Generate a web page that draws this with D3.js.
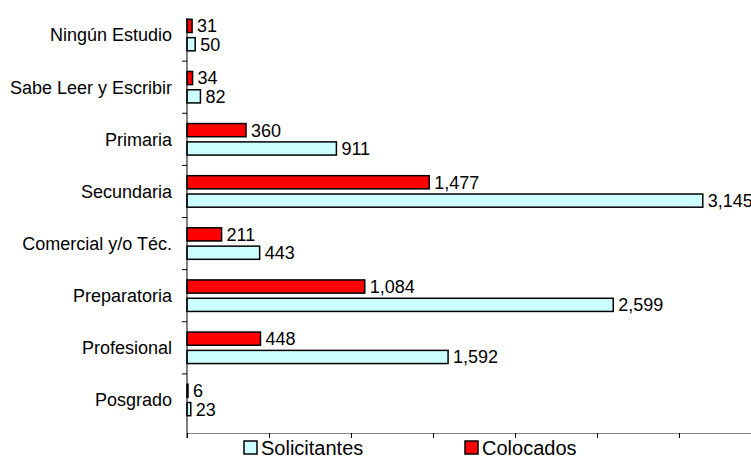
<!DOCTYPE html>
<html>
<head>
<meta charset="utf-8">
<script src="https://cdn.jsdelivr.net/npm/d3@7"></script>
<style>
  html, body { margin: 0; padding: 0; background: #fff; }
  svg { display: block; font-family: "Liberation Sans", Arial, sans-serif; }
</style>
</head>
<body>
<svg id="chart" width="751" height="459"></svg>
<script>
const categories = ["Ningún Estudio", "Sabe Leer y Escribir", "Primaria", "Secundaria",
                    "Comercial y/o Téc.", "Preparatoria", "Profesional", "Posgrado"];
const colocados = [31, 34, 360, 1477, 211, 1084, 448, 6];
const solicitantes = [50, 82, 911, 3145, 443, 2599, 1592, 23];
const xTickValues = [0, 500, 1000, 1500, 2000, 2500, 3000, 3500];
const seriesNames = ["Solicitantes", "Colocados"];
const seriesColors = { "Solicitantes": "#CCFFFF", "Colocados": "#FF0000" };

const svg = d3.select("#chart");
const axisLeftX = 187, axisBottomY = 433, axisTopY = 18;

const x = d3.scaleLinear().domain([0, 3500]).range([axisLeftX, 761]);
const y = d3.scaleBand().domain(categories).range([9, 426]);
// sub-band: Colocados on top, Solicitantes below
const ySub = d3.scaleBand().domain(["Colocados", "Solicitantes"]).range([-16.5, 16.5]).paddingInner(0.2);

const rows = categories.map((c, i) => ({ cat: c, Colocados: colocados[i], Solicitantes: solicitantes[i] }));

// bars
const g = svg.append("g");
rows.forEach(r => {
  const cy = y(r.cat) + y.bandwidth() / 2;
  ["Colocados", "Solicitantes"].forEach(s => {
    const top = cy + ySub(s);
    g.append("rect")
      .attr("x", x(0))
      .attr("y", top + 0.75)
      .attr("width", Math.max(0, x(r[s]) - x(0)))
      .attr("height", ySub.bandwidth() - 1.5)
      .attr("fill", seriesColors[s])
      .attr("stroke", "#000")
      .attr("stroke-width", 1.5);
    g.append("text")
      .attr("x", x(r[s]) + 5)
      .attr("y", top + ySub.bandwidth() / 2 + 6.4)
      .attr("font-size", 18)
      .attr("fill", "#000")
      .text(d3.format(",")(r[s]));
  });
});

// x axis
const xAxis = d3.axisBottom(x).tickValues(xTickValues).tickFormat("").tickSize(5).tickSizeOuter(0);
const xg = svg.append("g").attr("transform", `translate(0,${axisBottomY})`).call(xAxis);
xg.select(".domain").attr("stroke", "#808080").attr("stroke-width", 1.2);
xg.selectAll(".tick line").attr("stroke", "#000").attr("stroke-width", 1);

// y axis line
svg.append("line")
  .attr("x1", axisLeftX).attr("x2", axisLeftX)
  .attr("y1", axisTopY).attr("y2", axisBottomY + 5)
  .attr("stroke", "#000").attr("stroke-width", 1);
// y ticks at category boundaries
categories.slice(1).forEach(c => {
  svg.append("line")
    .attr("x1", axisLeftX - 5).attr("x2", axisLeftX)
    .attr("y1", y(c)).attr("y2", y(c))
    .attr("stroke", "#000").attr("stroke-width", 1);
});
// category labels
categories.forEach(c => {
  svg.append("text")
    .attr("x", 172)
    .attr("y", y(c) + y.bandwidth() / 2 + 6.4)
    .attr("text-anchor", "end")
    .attr("font-size", 18)
    .attr("fill", "#000")
    .text(c);
});

// legend
const legendPos = [{ name: "Solicitantes", x: 244 }, { name: "Colocados", x: 465 }];
legendPos.forEach(l => {
  svg.append("rect")
    .attr("x", l.x).attr("y", 441)
    .attr("width", 13).attr("height", 13)
    .attr("fill", seriesColors[l.name])
    .attr("stroke", "#000").attr("stroke-width", 1.5);
  svg.append("text")
    .attr("x", l.x + 17).attr("y", 455)
    .attr("font-size", 20)
    .attr("fill", "#000")
    .text(l.name);
});
</script>
</body>
</html>
